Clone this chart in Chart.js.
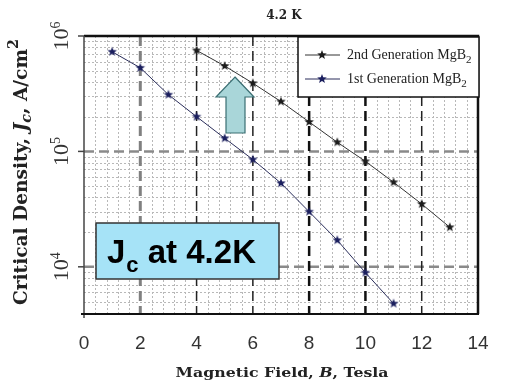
<!DOCTYPE html>
<html lang="en">
<head>
  <meta charset="UTF-8">
  <title>Jc at 4.2K</title>
  <script src="https://cdn.jsdelivr.net/npm/chart.js"></script>
  <style>
    body { margin: 0; background: #fff; }
    canvas { display: block; }
  </style>
</head>
<body>
<canvas id="jcChart" width="525" height="383"></canvas>
<script>
// field values (Tesla) and critical density (A/cm2)
const field1st = [1, 2, 3, 4, 5, 6, 7, 8, 9, 10, 11];
const jc1st = [7.3e5, 5.3e5, 3.1e5, 2.0e5, 1.3e5, 8.5e4, 5.3e4, 3.0e4, 1.7e4, 8.9e3, 4.8e3];
const field2nd = [4, 5, 6, 7, 8, 9, 10, 11, 12, 13];
const jc2nd = [7.5e5, 5.5e5, 3.9e5, 2.7e5, 1.8e5, 1.2e5, 8.2e4, 5.4e4, 3.5e4, 2.2e4];
const xTicks = [0, 2, 4, 6, 8, 10, 12, 14];
const yDecades = [4, 5, 6];

function starCanvas(color, r) {
  const c = document.createElement('canvas');
  c.width = c.height = r * 2 + 2;
  const g = c.getContext('2d');
  g.fillStyle = color;
  g.beginPath();
  for (let i = 0; i < 10; i++) {
    const rr = i % 2 === 0 ? r : r * 0.42;
    const a = -Math.PI / 2 + i * Math.PI / 5;
    g.lineTo(r + 1 + rr * Math.cos(a), r + 1 + rr * Math.sin(a));
  }
  g.closePath();
  g.fill();
  return c;
}
const star2 = starCanvas('#1c1c1c', 5);
const star1 = starCanvas('#1b1f5e', 5);

function toPts(xs, ys) {
  return xs.map((x, i) => ({ x: x, y: ys[i] }));
}

const SERIF = '"DejaVu Serif", serif';
const TIMES = '"Liberation Serif", "Times New Roman", serif';

const gridPlugin = {
  id: 'grid',
  beforeDatasetsDraw(chart) {
    const { ctx, chartArea: a, scales } = chart;
    const xs = scales.x, ys = scales.y;
    ctx.save();
    // minor dotted grid
    ctx.strokeStyle = '#b8b8b8';
    ctx.lineWidth = 1;
    ctx.setLineDash([2, 2]);
    for (let v = 0.4; v < 14; v += 0.4) {
      if (Math.abs(v / 2 - Math.round(v / 2)) < 0.01) continue;
      const px = Math.round(xs.getPixelForValue(v)) + 0.5;
      ctx.beginPath(); ctx.moveTo(px, a.top); ctx.lineTo(px, a.bottom); ctx.stroke();
    }
    for (let d = 3; d <= 5; d++) {
      for (let m = 1; m <= 9; m++) {
        const val = m * Math.pow(10, d);
        if (m === 1 || val < ys.min || val > ys.max) continue;
        const py = Math.round(ys.getPixelForValue(val)) + 0.5;
        ctx.beginPath(); ctx.moveTo(a.left, py); ctx.lineTo(a.right, py); ctx.stroke();
      }
    }
    // major dashed lines
    ctx.setLineDash([10, 5]);
    ctx.strokeStyle = '#8a8a8a';
    ctx.lineWidth = 2.5;
    [1e4, 1e5].forEach(v => {
      const py = ys.getPixelForValue(v);
      ctx.beginPath(); ctx.moveTo(a.left, py); ctx.lineTo(a.right, py); ctx.stroke();
    });
    const vStyles = { 2: ['#808080', 3], 4: ['#222', 1.5], 6: ['#222', 1.5], 8: ['#111', 2.5], 10: ['#111', 2.5], 12: ['#222', 1.5] };
    Object.keys(vStyles).forEach(k => {
      const px = xs.getPixelForValue(+k);
      ctx.strokeStyle = vStyles[k][0];
      ctx.lineWidth = vStyles[k][1];
      ctx.beginPath(); ctx.moveTo(px, a.top); ctx.lineTo(px, a.bottom); ctx.stroke();
    });
    ctx.restore();
  },
  afterDraw(chart) {
    const { ctx, chartArea: a, scales } = chart;
    const ys = scales.y;
    ctx.save();
    ctx.setLineDash([]);
    // frame
    ctx.strokeStyle = '#111';
    ctx.lineWidth = 2.5;
    ctx.beginPath(); ctx.moveTo(a.left, a.top); ctx.lineTo(a.right, a.top); ctx.lineTo(a.right, a.bottom); ctx.stroke();
    ctx.lineWidth = 1.5;
    ctx.strokeStyle = '#444';
    ctx.beginPath(); ctx.moveTo(a.left, a.top); ctx.lineTo(a.left, a.bottom + 4); ctx.stroke();
    ctx.strokeStyle = '#111';
    ctx.lineWidth = 2;
    ctx.beginPath(); ctx.moveTo(a.left - 3, a.bottom); ctx.lineTo(a.right + 1, a.bottom); ctx.stroke();

    // y tick labels, rotated
    ctx.fillStyle = '#333';
    yDecades.forEach(d => {
      const py = ys.getPixelForValue(Math.pow(10, d));
      ctx.strokeStyle = '#444'; ctx.lineWidth = 1.5;
      ctx.beginPath(); ctx.moveTo(a.left - 6, py); ctx.lineTo(a.left, py); ctx.stroke();
      ctx.save();
      ctx.translate(68, py);
      ctx.rotate(-Math.PI / 2);
      ctx.font = '22px ' + TIMES;
      ctx.textBaseline = 'alphabetic';
      const w10 = ctx.measureText('10').width;
      ctx.font = '14px ' + TIMES;
      const wd = ctx.measureText(String(d)).width;
      const x0 = -(w10 + wd) / 2;
      ctx.font = '22px ' + TIMES;
      ctx.textAlign = 'left';
      ctx.fillText('10', x0, 0);
      ctx.font = '14px ' + TIMES;
      ctx.fillText(String(d), x0 + w10, -8);
      ctx.restore();
    });

    // y axis title
    ctx.save();
    ctx.translate(27, 172);
    ctx.rotate(-Math.PI / 2);
    ctx.fillStyle = '#222';
    const parts = [
      ['Critical Density, ', 'bold 13px ' + SERIF, 0],
      ['J', 'bold italic 13px ' + SERIF, 0],
      ['c', 'bold italic 10px ' + SERIF, 3],
      [', A/cm', 'bold 13px ' + SERIF, 0],
      ['2', 'bold 10px ' + SERIF, -6]
    ];
    let total = 0;
    parts.forEach(p => { ctx.font = p[1]; total += ctx.measureText(p[0]).width; });
    const sc = 266 / total;
    ctx.scale(sc, sc);
    let cx = -total / 2;
    parts.forEach(p => { ctx.font = p[1]; ctx.fillText(p[0], cx, p[2]); cx += ctx.measureText(p[0]).width; });
    ctx.restore();

    // x axis title
    ctx.save();
    ctx.fillStyle = '#222';
    const xp = [
      ['Magnetic Field, ', 'bold 13px ' + SERIF],
      ['B', 'bold italic 13px ' + SERIF],
      [', Tesla', 'bold 13px ' + SERIF]
    ];
    let xt = 0;
    xp.forEach(p => { ctx.font = p[1]; xt += ctx.measureText(p[0]).width; });
    ctx.translate(282, 377);
    const sx = 213 / xt;
    ctx.scale(sx, 1);
    let xx = -xt / 2;
    xp.forEach(p => { ctx.font = p[1]; ctx.fillText(p[0], xx, 0); xx += ctx.measureText(p[0]).width; });
    ctx.restore();

    // chart title
    ctx.font = 'bold 12px ' + SERIF;
    ctx.fillStyle = '#222';
    ctx.textAlign = 'center';
    ctx.fillText('4.2 K', 284, 19);
    ctx.textAlign = 'left';

    // legend box
    ctx.fillStyle = '#fff';
    ctx.fillRect(298, 37, 181, 60);
    ctx.strokeStyle = '#111';
    ctx.lineWidth = 1.5;
    ctx.strokeRect(298, 37, 181, 60);
    const legendRows = [
      [chart.data.datasets[0], 55, '2nd Generation MgB'],
      [chart.data.datasets[1], 79, '1st Generation MgB']
    ];
    legendRows.forEach(r => {
      ctx.strokeStyle = r[0].borderColor;
      ctx.lineWidth = 1;
      ctx.beginPath(); ctx.moveTo(305, r[1]); ctx.lineTo(340, r[1]); ctx.stroke();
      ctx.drawImage(r[0].pointStyle, 322 - 6, r[1] - 6);
      ctx.fillStyle = '#222';
      ctx.font = '14px ' + TIMES;
      ctx.textBaseline = 'middle';
      ctx.fillText(r[2], 347, r[1]);
      const w = ctx.measureText(r[2]).width;
      ctx.font = '11px ' + TIMES;
      ctx.fillText('2', 347 + w, r[1] + 5);
    });
    ctx.textBaseline = 'alphabetic';

    // arrow
    ctx.fillStyle = '#a9d6d9';
    ctx.strokeStyle = '#3a6e72';
    ctx.lineWidth = 1.2;
    ctx.beginPath();
    ctx.moveTo(235, 77);
    ctx.lineTo(254, 97);
    ctx.lineTo(245, 97);
    ctx.lineTo(245, 133);
    ctx.lineTo(226, 133);
    ctx.lineTo(226, 97);
    ctx.lineTo(216, 97);
    ctx.closePath();
    ctx.fill();
    ctx.stroke();

    // label box
    ctx.fillStyle = '#a6e3f7';
    ctx.fillRect(96, 223, 183, 56);
    ctx.strokeStyle = '#333';
    ctx.lineWidth = 1.5;
    ctx.strokeRect(96, 223, 183, 56);
    ctx.fillStyle = '#000';
    ctx.font = 'bold 33px "Liberation Sans", Arial, sans-serif';
    ctx.fillText('J', 107, 263);
    const wj = ctx.measureText('J').width;
    ctx.font = 'bold 22px "Liberation Sans", Arial, sans-serif';
    ctx.fillText('c', 107 + wj + 1, 272);
    const wc = ctx.measureText('c').width;
    ctx.font = 'bold 33px "Liberation Sans", Arial, sans-serif';
    ctx.fillText(' at 4.2K', 107 + wj + wc + 1, 263);
    ctx.restore();
  }
};

new Chart(document.getElementById('jcChart'), {
  type: 'scatter',
  data: {
    datasets: [{
      label: '2nd Generation MgB2',
      data: toPts(field2nd, jc2nd),
      showLine: true,
      borderColor: '#333',
      borderWidth: 1,
      pointStyle: star2,
      pointRadius: 5
    }, {
      label: '1st Generation MgB2',
      data: toPts(field1st, jc1st),
      showLine: true,
      borderColor: '#2a2d5a',
      borderWidth: 1,
      pointStyle: star1,
      pointRadius: 5
    }]
  },
  options: {
    responsive: false,
    animation: false,
    layout: { padding: { left: 0, top: 36, right: 47, bottom: 0 } },
    plugins: { legend: { display: false }, tooltip: { enabled: false } },
    scales: {
      x: {
        type: 'linear',
        min: 0, max: 14,
        afterBuildTicks: s => { s.ticks = xTicks.map(v => ({ value: v })); },
        afterFit: s => { s.height = 69; },
        grid: { display: false },
        border: { display: false },
        ticks: {
          color: '#333',
          padding: 10,
          maxRotation: 0,
          font: { family: '"Liberation Sans", Arial, sans-serif', size: 19 }
        }
      },
      y: {
        type: 'logarithmic',
        min: 3900, max: 1e6,
        afterFit: s => { s.width = 84; },
        grid: { display: false },
        border: { display: false },
        ticks: { display: false }
      }
    }
  },
  plugins: [gridPlugin]
});
</script>
</body>
</html>
